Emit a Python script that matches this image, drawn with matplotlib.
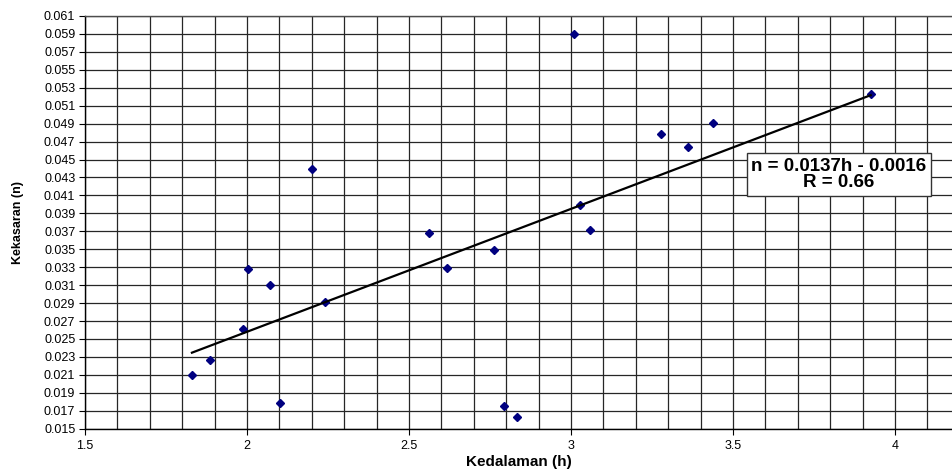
import numpy as np
import matplotlib
matplotlib.use("Agg")
import matplotlib.pyplot as plt
from matplotlib.ticker import MultipleLocator, FormatStrFormatter

plt.rcParams['font.family'] = ['Liberation Sans', 'DejaVu Sans']

# Kedalaman (h) dan kekasaran (n)
h = [1.830, 1.885, 1.989, 2.004, 2.071, 2.101, 2.202, 2.241, 2.562, 2.617,
     2.762, 2.794, 2.833, 3.009, 3.028, 3.059, 3.278, 3.360, 3.437, 3.925]
n = [0.0210, 0.0227, 0.0261, 0.0328, 0.0310, 0.0179, 0.0440, 0.0291, 0.0368, 0.0329,
     0.0349, 0.0175, 0.0163, 0.0590, 0.0399, 0.0372, 0.0478, 0.0464, 0.0491, 0.0523]

# garis tren: n = a*h + b
a, b = 0.0137, -0.0016
label_text = "n = 0.0137h - 0.0016\nR = 0.66"

fig = plt.figure(figsize=(9.53, 4.73), dpi=100)
ax = fig.add_axes([0.0892, 0.0937, 0.9108, 0.8725])

ax.set_xlim(1.5, 4.179)
ax.set_ylim(0.015, 0.061)
ax.xaxis.set_major_locator(MultipleLocator(0.5))
ax.xaxis.set_minor_locator(MultipleLocator(0.1))
ax.set_yticks(np.arange(0.015, 0.0615, 0.002))
ax.xaxis.set_major_formatter(FormatStrFormatter('%g'))
ax.yaxis.set_major_formatter(FormatStrFormatter('%.3f'))

ax.grid(True, which='major', axis='y', color='0.15', lw=0.9)
ax.grid(True, which='both', axis='x', color='0.15', lw=0.9)
ax.set_axisbelow(True)

ax.tick_params(axis='both', which='major', labelsize=9, length=4, width=0.8, pad=3)
ax.tick_params(axis='x', which='minor', length=0)
ax.tick_params(axis='x', pad=4)

for s in ['left', 'bottom', 'top']:
    ax.spines[s].set_color('black')
    ax.spines[s].set_linewidth(1.0)
ax.spines['top'].set_color('0.3')
ax.spines['right'].set_visible(False)

ax.plot(h, n, linestyle='none', marker='D', markersize=4.5, color='#000080', zorder=3)

hx = np.array([min(h), max(h)])
ax.plot(hx, a * hx + b, color='black', lw=1.6, zorder=4)

ax.text(3.827, 0.0433, label_text, ha='center', va='center', fontsize=13.5,
        fontweight='bold', linespacing=0.95, zorder=5,
        bbox=dict(boxstyle='square,pad=0.25', facecolor='white', edgecolor='0.2', lw=1.0))

ax.set_xlabel("Kedalaman (h)", fontsize=11, fontweight='bold', labelpad=2)
ax.set_ylabel("Kekasaran (n)", fontsize=9, fontweight='bold', labelpad=14)

fig.savefig("out.png", dpi=100)
